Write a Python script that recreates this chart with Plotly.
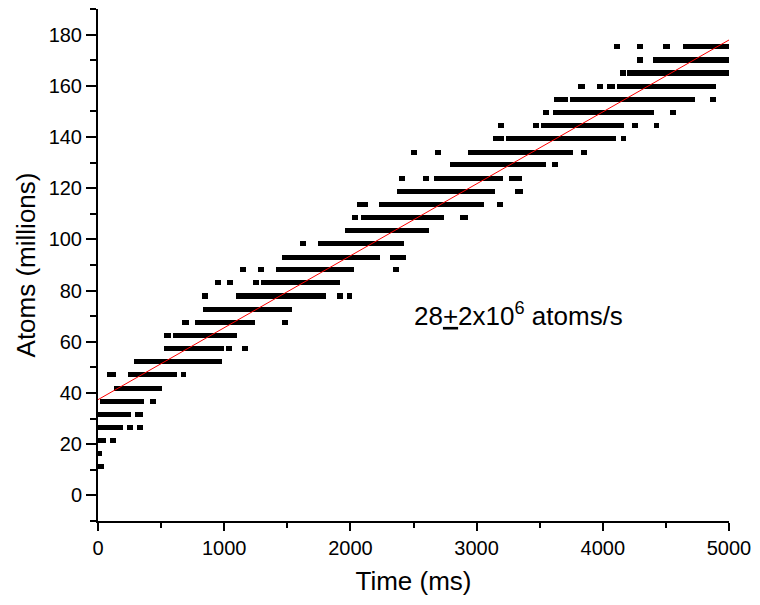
import plotly.graph_objects as go

# Atom-count plateaus (millions) and the time spans (ms) where each plateau was recorded
run_atoms = [
    11.2,
    16.3,
    21.3, 21.3,
    26.6, 26.6, 26.6,
    31.6, 31.6,
    36.7, 36.7,
    41.7,
    47.1, 47.1, 47.1,
    52.2,
    57.3, 57.3, 57.3,
    62.4, 62.4,
    67.4, 67.4, 67.4,
    72.7,
    77.9, 77.9, 77.9, 77.9,
    83.0, 83.0, 83.0, 83.0,
    88.1, 88.1, 88.1, 88.1,
    93.1, 93.1,
    98.4, 98.4,
    103.4,
    108.5, 108.5, 108.5,
    113.7, 113.7, 113.7,
    118.8, 118.8,
    123.9, 123.9, 123.9, 123.9,
    129.1, 129.1,
    134.1, 134.1, 134.1, 134.1,
    139.3, 139.3, 139.3,
    144.4, 144.4, 144.4, 144.4, 144.4,
    149.6, 149.6, 149.6,
    154.8, 154.8, 154.8,
    159.8, 159.8, 159.8, 159.8,
    165.0, 165.0,
    170.1, 170.1,
    175.3, 175.3, 175.3, 175.3,
]
run_t_start = [
    0,
    0,
    0, 94,
    0, 228, 307,
    0, 294,
    13, 412,
    123,
    68, 241, 654,
    286,
    525, 1016, 1142,
    525, 593,
    669, 769, 1457,
    830,
    827, 1094, 1895, 1971,
    926, 1024, 1228, 1294,
    1128, 1265, 1409, 2339,
    1459, 2315,
    1603, 1743,
    1960,
    2016, 2084, 2869,
    2052, 2228, 3160,
    2367, 3304,
    2388, 2572, 2664, 3257,
    2792, 3595,
    2477, 2674, 2932, 3827,
    3131, 3231, 4142,
    3173, 3446, 3512, 4228, 4402,
    3530, 3603, 4530,
    3617, 3743, 4847,
    3806, 3957, 4032, 4113,
    4134, 4191,
    4270, 4396,
    4091, 4270, 4477, 4635,
]
run_t_end = [
    50,
    31,
    60, 142,
    202, 278, 354,
    262, 359,
    362, 459,
    509,
    139, 622, 701,
    979,
    1000, 1063, 1189,
    575, 1102,
    719, 1244, 1506,
    1540,
    874, 1805, 1939, 2016,
    973, 1068, 1272, 1921,
    1173, 1312, 2028, 2383,
    2233, 2438,
    1650, 2425,
    2619,
    2063, 2743, 2934,
    2136, 3057, 3207,
    3147, 3367,
    2435, 2619, 3210, 3362,
    3548, 3642,
    2525, 2721, 3766, 3874,
    3215, 4105, 4186,
    3220, 3493, 4170, 4276, 4449,
    3577, 4409, 4577,
    3721, 4732, 4895,
    3855, 4005, 4099, 4895,
    4181, 5000,
    4317, 5000,
    4136, 4315, 4532, 5000,
]

# Linear fit: atoms (millions) = intercept + slope * t(ms)
fit_intercept = 37.4
fit_slope = 0.0281
fit_t = [0, 5000]
fit_atoms = [fit_intercept + fit_slope * t for t in fit_t]

run_len = [e - s for s, e in zip(run_t_start, run_t_end)]

FONT = "Arial, Liberation Sans, sans-serif"

fig = go.Figure()
fig.add_trace(go.Bar(
    orientation="h",
    y=run_atoms,
    x=run_len,
    base=run_t_start,
    width=2.0,
    marker=dict(color="black", line=dict(width=0)),
    showlegend=False,
    hoverinfo="skip",
))
fig.add_trace(go.Scatter(
    x=fit_t,
    y=fit_atoms,
    mode="lines",
    line=dict(color="#ff0000", width=1),
    showlegend=False,
    hoverinfo="skip",
))

fig.add_annotation(
    x=3330, y=70.5, xref="x", yref="y",
    text="28<u>+</u>2x10<sup>6</sup> atoms/s",
    showarrow=False,
    font=dict(family=FONT, size=26, color="black"),
    xanchor="center", yanchor="middle",
)

axis_common = dict(
    showline=True, linecolor="black", linewidth=2,
    ticks="outside", tickcolor="black", tickwidth=2,
    showgrid=False, zeroline=False, mirror=False,
    tickfont=dict(family=FONT, size=20, color="black"),
)

fig.update_xaxes(
    range=[0, 5000], tickmode="linear", tick0=0, dtick=1000, ticklen=8,
    minor=dict(dtick=500, ticklen=5, tickcolor="black", tickwidth=2, ticks="outside"),
    title=dict(text="Time (ms)", font=dict(family=FONT, size=26, color="black"), standoff=14),
    **axis_common,
)
fig.update_yaxes(
    range=[-10, 190], tickmode="linear", tick0=0, dtick=20, ticklen=10,
    minor=dict(dtick=10, ticklen=6, tickcolor="black", tickwidth=2, ticks="outside"),
    title=dict(text="Atoms (millions)", font=dict(family=FONT, size=26, color="black"), standoff=6),
    **axis_common,
)

fig.update_layout(
    width=760, height=605,
    margin=dict(l=98, r=27, t=9, b=84),
    paper_bgcolor="white", plot_bgcolor="white",
    barmode="overlay", bargap=0,
)

fig.write_html("out.html")
